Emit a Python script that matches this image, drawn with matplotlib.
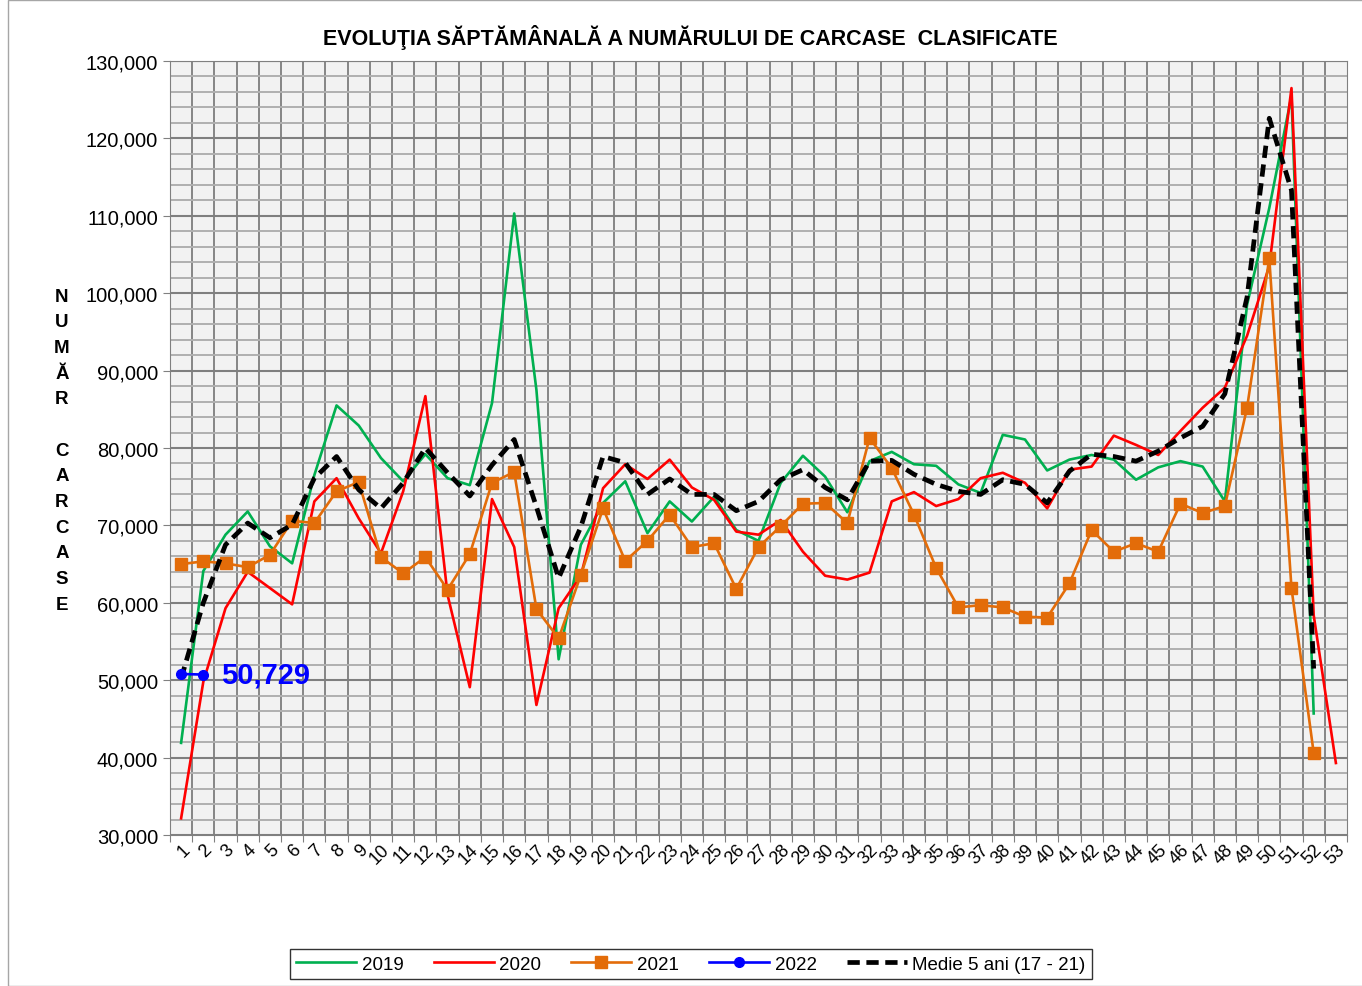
import numpy as np
import matplotlib.pyplot as plt
from matplotlib.patches import Rectangle
from matplotlib.ticker import MultipleLocator, FuncFormatter

# weekly data
weeks = np.arange(1, 54)

y2019 = [41900, 64100, 68800, 71800, 67300, 65100, 76500, 85500, 82900, 78700,
         75700, 79200, 76100, 75200, 85800, 110300, 87500, 52700, 67500, 72900,
         75700, 69000, 73100, 70500, 73700, 69400, 68000, 75500, 79000, 76300,
         71700, 78300, 79500, 77900, 77700, 75300, 74200, 81700, 81100, 77100,
         78500, 79100, 78500, 75900, 77500, 78300, 77600, 73100, 98500, 111000,
         125500, 45700]

y2020 = [32150, 49800, 59300, 64000, 61900, 59800, 73100, 76100, 70900, 66400,
         74400, 86700, 61000, 49100, 73400, 67200, 46800, 59300, 63500, 74800,
         77900, 76000, 78500, 74900, 73300, 69200, 68800, 70700, 66600, 63500,
         63000, 63900, 73100, 74300, 72500, 73400, 76100, 76800, 75500, 72200,
         77200, 77600, 81600, 80400, 79100, 82200, 85200, 87800, 94500, 103500,
         126500, 58400, 39300]

y2021 = [65000, 65350, 65100, 64600, 66200, 70600, 70300, 74400, 75600, 65900,
         63800, 65900, 61700, 66300, 75500, 76900, 59200, 55400, 63600, 72200,
         65400, 68000, 71400, 67200, 67700, 61800, 67200, 69900, 72800, 72900,
         70300, 81300, 77400, 71400, 64500, 59400, 59700, 59400, 58200, 58100,
         62500, 69400, 66600, 67700, 66600, 72800, 71600, 72500, 85200, 104500,
         61900, 40600]

y2022 = [50800, 50729]

avg5 = [50200, 60000, 67500, 70300, 68400, 70100, 76100, 78900, 74600, 72200,
        75500, 80000, 76800, 73800, 77800, 81100, 72400, 63200, 69800, 78900,
        78100, 74000, 76000, 74000, 74000, 71900, 73100, 75900, 77200, 74900,
        73300, 78300, 78400, 76600, 75300, 74400, 74000, 75900, 75300, 72900,
        77000, 79200, 78900, 78300, 79600, 81300, 82800, 87000, 99500, 122600,
        113300, 51500]

title = "EVOLUŢIA SĂPTĂMÂNALĂ A NUMĂRULUI DE CARCASE  CLASIFICATE"
ylabel_letters = list("NUMĂR") + [""] + list("CARCASE")

W, H = 1362, 987
fig = plt.figure(figsize=(W / 100, H / 100), dpi=100)
plt.rcParams['font.family'] = ['Liberation Sans', 'DejaVu Sans']

# outer frame of the chart object
fig.patches.append(Rectangle((8 / W, 0.0), 1.0, 0.999, transform=fig.transFigure,
                             fill=False, edgecolor='#a6a6a6', linewidth=1.0))

ax = fig.add_axes([170 / W, 1 - 836 / H, 1177 / W, 774 / H])
ax.set_facecolor('#f2f2f2')

ax.set_xlim(0.5, 53.5)
ax.set_ylim(30000, 130000)

# grid
ax.yaxis.set_major_locator(MultipleLocator(10000))
ax.yaxis.set_minor_locator(MultipleLocator(2000))
ax.grid(which='major', axis='y', color='#7f7f7f', linewidth=1.5)
ax.grid(which='minor', axis='y', color='#b0b0b0', linewidth=1.4)
for b in np.arange(1.5, 53.5, 1):
    ax.axvline(b, color='#868686', linewidth=1.4, zorder=0.5)
ax.set_axisbelow(True)

ax.yaxis.set_major_formatter(FuncFormatter(lambda v, p: f"{int(v):,}"))
ax.tick_params(axis='y', which='minor', length=0)
ax.tick_params(axis='y', which='major', labelsize=14.5, length=5, color='#808080')

# x ticks at boundaries, labels at centers
ax.set_xticks(np.arange(0.5, 54, 1))
ax.set_xticklabels([])
ax.set_xticks(weeks, minor=True)
ax.set_xticklabels([str(w) for w in weeks], minor=True, rotation=45,
                   ha='right', va='top', rotation_mode='anchor', fontsize=13)
ax.tick_params(axis='x', which='major', length=5, color='#808080')
ax.tick_params(axis='x', which='minor', length=0, pad=4)

for s in ['top', 'right', 'left', 'bottom']:
    ax.spines[s].set_color('#808080')

# series
ax.plot(weeks[:len(y2019)], y2019, color='#00b050', linewidth=1.9, label='2019', zorder=3)
ax.plot(weeks[:len(y2020)], y2020, color='#ff0000', linewidth=1.9, label='2020', zorder=3)
ax.plot(weeks[:len(y2021)], y2021, color='#e36c09', linewidth=1.9, marker='s',
        markersize=8, label='2021', zorder=4)
ax.plot(weeks[:len(y2022)], y2022, color='#0000ff', linewidth=1.9, marker='o',
        markersize=7, label='2022', zorder=6)
ax.plot(weeks[:len(avg5)], avg5, color='black', linewidth=3.4, dashes=(2.6, 1.4),
        label='Medie 5 ani (17 - 21)', zorder=5)

ax.annotate(f"{y2022[-1]:,}", (len(y2022), y2022[-1]), xytext=(13, 0),
            textcoords='offset points', color='#0000ff', fontsize=21,
            fontweight='bold', va='center', ha='left')

fig.text(690 / W, 1 - 38 / H, title, ha='center', va='center',
         fontsize=15.5, fontweight='bold')

for k, ch in enumerate(ylabel_letters):
    fig.text(62 / W, 1 - (297 + k * 25.7) / H, ch, ha='center', va='center',
             fontsize=13.5, fontweight='bold')

leg = fig.legend(loc='center', bbox_to_anchor=(691 / W, 1 - 965 / H), ncol=5,
                 fontsize=13.5, frameon=True, fancybox=False, handlelength=3.2,
                 columnspacing=1.6, handletextpad=0.3, borderpad=0.35)
leg.get_frame().set_edgecolor('black')
leg.get_frame().set_linewidth(1.0)

fig.savefig('out.png', dpi=100)
